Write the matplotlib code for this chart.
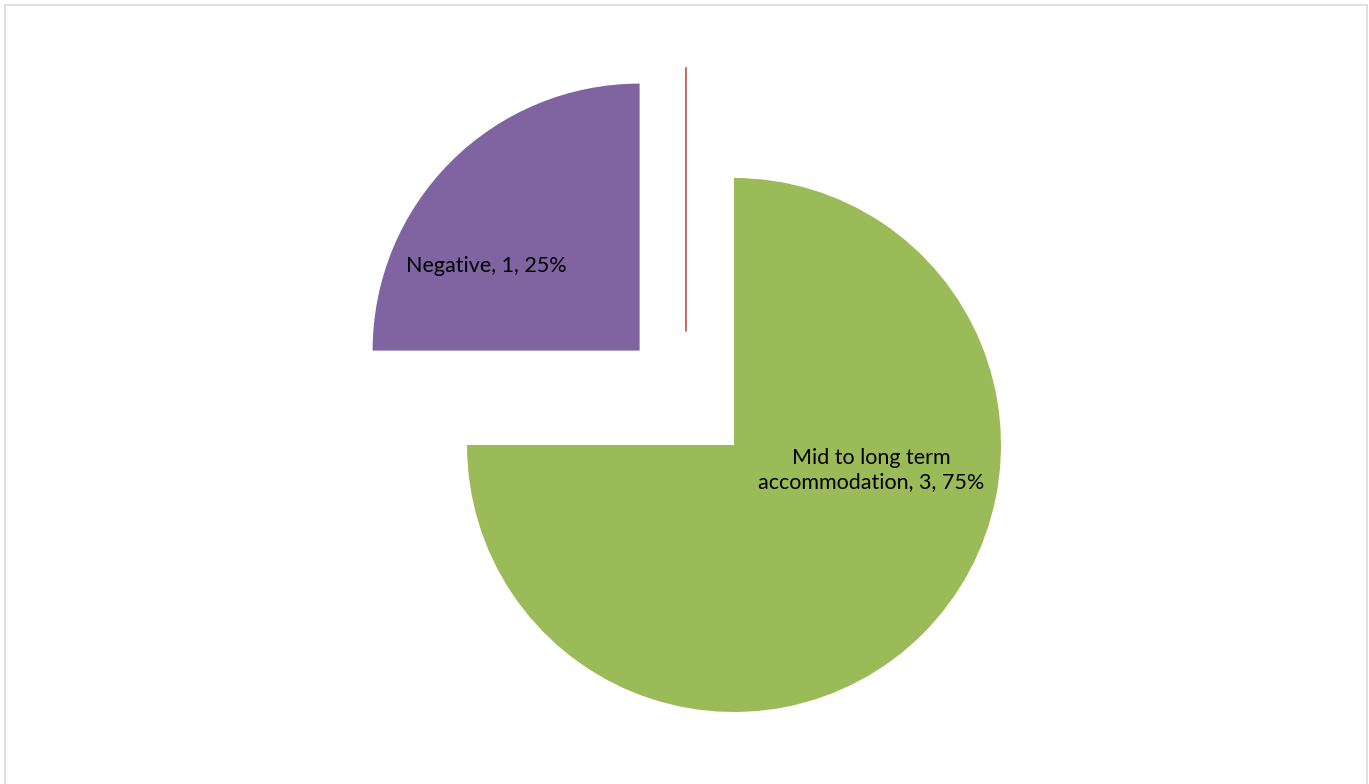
import matplotlib.pyplot as plt
from matplotlib.patches import Rectangle

# pie data
categories = ["Positive", "Mid to long term accommodation", "Negative"]
values = [0, 3, 1]
colors = ["#C0504D", "#9BBB59", "#8064A2"]
label_text = [None, "Mid to long term\naccommodation, 3, 75%", "Negative, 1, 25%"]

# layout (in pie-radius units)
explode = [0, 0, 0.5]
zero_center = (-0.18, 0.425)
label_pos = [None, (0.513, -0.094), (-0.929, 0.670)]

W, H = 1369, 784
cx, cy, R = 734, 445, 267

fig = plt.figure(figsize=(W / 100, H / 100), dpi=100)
ax = fig.add_axes([0, 0, 1, 1])

wedges, _ = ax.pie(values, colors=colors, startangle=90, counterclock=False,
                   explode=explode, radius=1.0, normalize=True)

# pie() sets its own limits, so override after
ax.set_xlim(-cx / R, (W - cx) / R)
ax.set_ylim(-(H - cy) / R, cy / R)
ax.set_aspect("equal")
ax.axis("off")

# the empty slice shows up as a single line
wedges[0].set_center(zero_center)
wedges[0].set_edgecolor(colors[0])
wedges[0].set_linewidth(1.2)
wedges[0].set_radius(0.99)

for txt, pos in zip(label_text, label_pos):
    if txt is None:
        continue
    ax.text(pos[0], pos[1], txt, ha="center", va="center", fontsize=15.5,
            family=["Lato", "DejaVu Sans"], color="black", linespacing=1.3)

# chart border
fig.patches.append(Rectangle((5 / W, -0.01), (1367 - 5) / W, (H - 5) / H + 0.01,
                             transform=fig.transFigure, fill=False,
                             edgecolor="#D9D9D9", linewidth=1.2))

fig.savefig("out.png", dpi=100)
